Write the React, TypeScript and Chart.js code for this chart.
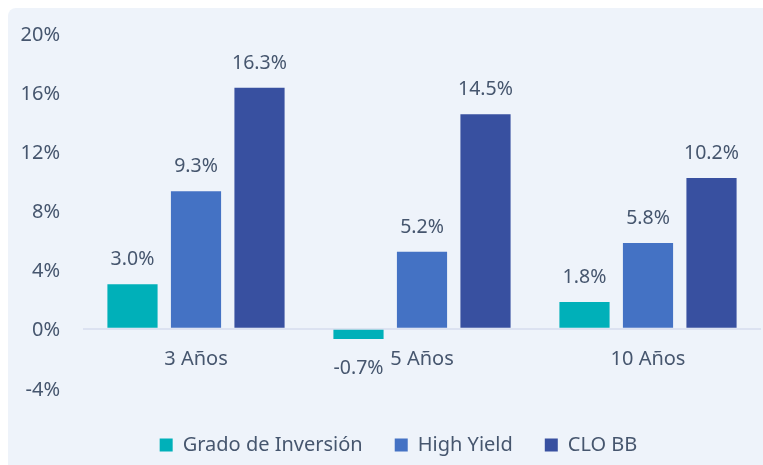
import React, { useEffect, useRef } from "react";
import { Chart, registerables } from "chart.js";

Chart.register(...registerables);

const categories = ["3 Años", "5 Años", "10 Años"];
const seriesNames = ["Grado de Inversión", "High Yield", "CLO BB"];
const gradoInversion = [3.0, -0.7, 1.8];
const highYield = [9.3, 5.2, 5.8];
const cloBB = [16.3, 14.5, 10.2];
const seriesColors = ["#00b0b9", "#4472c4", "#3850a0"];
const yMin = -4;
const yMax = 20;
const yStep = 4;

const FONT = "'Noto Sans', sans-serif";
const TEXT = "#46566e";

const dataLabelPlugin = {
  id: "dataLabels",
  afterDatasetsDraw(chart: any) {
    const ctx = chart.ctx;
    ctx.save();
    ctx.font = `19.5px ${FONT}`;
    ctx.fillStyle = TEXT;
    ctx.textAlign = "center";
    chart.data.datasets.forEach((ds: any, i: number) => {
      const meta = chart.getDatasetMeta(i);
      meta.data.forEach((el: any, j: number) => {
        const v = ds.data[j];
        const txt = v.toFixed(1) + "%";
        if (v >= 0) {
          ctx.textBaseline = "bottom";
          ctx.fillText(txt, el.x, el.y - 15);
        } else {
          ctx.textBaseline = "top";
          ctx.fillText(txt, el.x, el.y + 20);
        }
      });
    });
    ctx.restore();
  },
};

export default function App() {
  const ref = useRef<HTMLCanvasElement | null>(null);
  useEffect(() => {
    document.documentElement.style.overflow = "hidden";
    document.body.style.overflow = "hidden";
    const chart = new Chart(ref.current!, {
      type: "bar",
      data: {
        labels: categories,
        datasets: [gradoInversion, highYield, cloBB].map((d, i) => ({
          label: seriesNames[i],
          data: d,
          backgroundColor: seriesColors[i],
          borderWidth: 0,
          barPercentage: 0.79,
          categoryPercentage: 0.843,
        })),
      },
      options: {
        responsive: false,
        animation: false,
        layout: { padding: { left: 0, right: 0, top: 25, bottom: 0 } },
        plugins: {
          tooltip: { enabled: false },
          legend: {
            position: "bottom",
            labels: {
              boxWidth: 13,
              boxHeight: 13,
              padding: 32,
              color: TEXT,
              font: { family: FONT, size: 20 },
            },
            title: { display: true, text: "", padding: { top: 14, bottom: 0 }, font: { size: 1 } },
          },
        },
        scales: {
          x: {
            position: { y: 0 } as any,
            grid: { display: false },
            border: { display: false },
            ticks: { color: TEXT, font: { family: FONT, size: 20 }, padding: 11 },
          },
          y: {
            min: yMin,
            max: yMax,
            border: { display: false },
            grid: {
              drawTicks: false,
              lineWidth: 2,
              color: (c: any) => (c.tick && c.tick.value === 0 ? "#dce2f1" : "transparent"),
            },
            ticks: {
              stepSize: yStep,
              padding: 23,
              labelOffset: 2,
              color: TEXT,
              font: { family: FONT, size: 20 },
              callback: (v: any) => v + "%",
            },
            afterFit: (s: any) => {
              s.width = 75;
              s.paddingTop = 0;
              s.paddingBottom = 0;
            },
          },
          y2: {
            position: "right",
            display: true,
            grid: { display: false },
            border: { display: false },
            ticks: { display: false },
            afterFit: (s: any) => {
              s.width = 28;
              s.paddingTop = 0;
              s.paddingBottom = 0;
            },
          },
        },
      },
      plugins: [dataLabelPlugin],
    });
    return () => chart.destroy();
  }, []);
  return (
    <div
      style={{
        position: "fixed",
        left: 8,
        top: 8,
        width: 781,
        height: 470,
        background: "#eef3fa",
        borderRadius: 8,
      }}
    >
      <canvas ref={ref} width={781} height={457} style={{ display: "block" }} />
    </div>
  );
}
